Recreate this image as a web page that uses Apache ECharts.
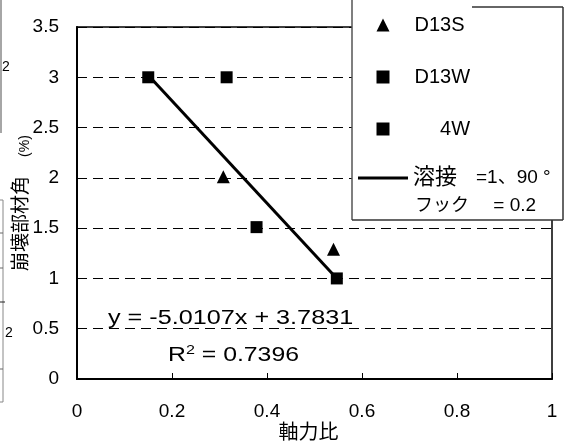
<!DOCTYPE html>
<html><head><meta charset="utf-8">
<script src="https://cdn.jsdelivr.net/npm/echarts@6/dist/echarts.min.js"></script>
<style>html,body{margin:0;padding:0;background:#fff}#c{width:573px;height:443px}</style>
</head><body><div id="c"></div>
<script>
// ---- data ----
const xTickStep = 0.2, xMin = 0, xMax = 1;
const yTickStep = 0.5, yMin = 0, yMax = 3.5;
const d13sX = [0.308, 0.54];
const d13sY = [2.01, 1.29];
const d13wX = [0.15, 0.315];
const d13wY = [3.0, 3.0];
const w4X = [0.378, 0.547];
const w4Y = [1.51, 1.0];
const trendX = [0.15, 0.547];
const trendY = [3.02, 1.0];
const seriesNames = ['D13S', 'D13W', '4W', '溶接　=1、90 °'];
const legendSecondLabel = 'フック';
const legendSecondValue = '= 0.2';
const equationText = 'y = -5.0107x + 3.7831';
const r2Value = '0.7396';
const xName = '軸力比';
const yNameMain = '崩壊部材角';
const yNameUnit = '(%)';

const FONT = "'Liberation Sans', Arial, 'Noto Sans CJK JP', sans-serif";
const zip = (xs, ys) => xs.map((x, i) => [x, ys[i]]);

const chart = echarts.init(document.getElementById('c'), null, {renderer: 'canvas'});
chart.setOption({
  animation: false,
  backgroundColor: '#fff',
  textStyle: {fontFamily: FONT, color: '#000'},
  grid: {left: 77, right: 21, top: 27, bottom: 64, show: true, borderColor: '#000', borderWidth: 1.5,
    backgroundColor: 'transparent', outerBoundsMode: 'none', containLabel: false},
  xAxis: {
    type: 'value', min: xMin, max: xMax, interval: xTickStep,
    name: xName, nameLocation: 'middle', nameGap: 44, nameMoveOverlap: false,
    nameTextStyle: {fontSize: 20, color: '#000', fontFamily: FONT, padding: [0, 12, 0, 0]},
    axisLine: {show: true, lineStyle: {color: '#000', width: 2}},
    axisTick: {show: true, inside: true, length: 6, lineStyle: {color: '#000', width: 1}},
    axisLabel: {fontSize: 19, color: '#000', margin: 23, fontFamily: FONT},
    splitLine: {show: false}
  },
  yAxis: {
    type: 'value', min: yMin, max: yMax, interval: yTickStep,
    name: '{m|' + yNameMain + '}\u3000{u|' + yNameUnit + '}', nameLocation: 'middle', nameGap: 44, nameRotate: 90, nameMoveOverlap: false,
    nameTextStyle: {fontSize: 19, color: '#000', fontFamily: FONT, lineHeight: 22,
      rich: {m: {fontSize: 19, lineHeight: 22, verticalAlign: 'middle', color: '#000', fontFamily: FONT},
             u: {fontSize: 14, lineHeight: 22, verticalAlign: 'middle', padding: [6, 0, 0, 0], color: '#000', fontFamily: FONT}}},
    axisLine: {show: true, lineStyle: {color: '#000', width: 2}},
    axisTick: {show: false},
    axisLabel: {fontSize: 19, color: '#000', margin: 18, fontFamily: FONT},
    splitLine: {show: true, lineStyle: {color: '#000', width: 1, type: [10, 6]}}
  },
  legend: [
    {
      data: seriesNames.slice(0, 3), orient: 'vertical', left: 376.5, top: 15, z: 20, padding: 0,
      itemWidth: 13, itemHeight: 13, itemGap: 32,
      formatter: n => n === '4W' ? '\u3000 4W' : n,
      textStyle: {fontSize: 20, color: '#000', fontFamily: FONT, lineHeight: 20, padding: [0, 0, 0, 20]},
      selectedMode: false
    },
    {
      data: [{name: seriesNames[3], icon: 'rect'}], orient: 'vertical', left: 358, top: 167, z: 20, padding: 0,
      itemWidth: 50, itemHeight: 3,
      formatter: n => '{c|' + n.split('\u3000')[0] + '}\u3000' + n.split('\u3000')[1],
      textStyle: {fontSize: 19, color: '#000', fontFamily: FONT, lineHeight: 20,
        rich: {c: {fontSize: 22, color: '#000', fontFamily: FONT}}},
      selectedMode: false
    }
  ],
  series: [
    {name: seriesNames[3], type: 'line', data: zip(trendX, trendY), symbol: 'none', z: 2,
      lineStyle: {color: '#000', width: 3}, itemStyle: {color: '#000'}},
    {name: seriesNames[0], type: 'scatter', data: zip(d13sX, d13sY), symbol: 'triangle', symbolSize: 13, z: 3,
      itemStyle: {color: '#000', opacity: 1}},
    {name: seriesNames[1], type: 'scatter', data: zip(d13wX, d13wY), symbol: 'rect', symbolSize: 12, z: 3,
      itemStyle: {color: '#000', opacity: 1}},
    {name: seriesNames[2], type: 'scatter', data: zip(w4X, w4Y), symbol: 'rect', symbolSize: 12, z: 3,
      itemStyle: {color: '#000', opacity: 1}}
  ],
  graphic: [
    // legend frame
    {type: 'rect', z: 10, shape: {x: 352, y: 0, width: 211, height: 220}, style: {fill: '#fff'}},
    {type: 'line', z: 11, shape: {x1: 352, y1: 0, x2: 352, y2: 220}, style: {stroke: '#555', lineWidth: 1.5}},
    {type: 'line', z: 11, shape: {x1: 352, y1: 220, x2: 563, y2: 220}, style: {stroke: '#333', lineWidth: 1.5}},
    {type: 'line', z: 11, shape: {x1: 563, y1: 7, x2: 563, y2: 220}, style: {stroke: '#333', lineWidth: 1.5}},
    {type: 'line', z: 11, shape: {x1: 472, y1: 7, x2: 563, y2: 7}, style: {stroke: '#333', lineWidth: 1.5}},
    {type: 'text', z: 21, x: 415, y: 206, style: {
      text: '{c|' + legendSecondLabel + '}\u3000 ' + legendSecondValue, font: '19px ' + FONT, fill: '#000', verticalAlign: 'middle',
      rich: {c: {fontSize: 18, fontFamily: FONT}}}},
    // regression annotation (horizontally stretched like the reference)
    {type: 'text', z: 12, x: 108, y: 318, scaleX: 1.26, style: {text: equationText, font: '20px ' + FONT, fill: '#000', verticalAlign: 'middle'}},
    {type: 'text', z: 12, x: 168, y: 355, scaleX: 1.24, style: {
      text: 'R{s|2} = ' + r2Value, font: '20px ' + FONT, fill: '#000', verticalAlign: 'middle',
      rich: {s: {fontSize: 13, fontFamily: FONT, verticalAlign: 'top', padding: [0, 0, 10, 0]}}}},
    // fragments of a neighbouring chart at the left edge
    {type: 'line', z: 1, shape: {x1: 1, y1: 0, x2: 1, y2: 133}, style: {stroke: '#888', lineWidth: 1.5}},
    {type: 'rect', z: 1, shape: {x: -6, y: 200, width: 9, height: 202}, style: {fill: 'none', stroke: '#888', lineWidth: 1}},
    {type: 'line', z: 1, shape: {x1: 0, y1: 233, x2: 3, y2: 233}, style: {stroke: '#666', lineWidth: 1}},
    {type: 'line', z: 1, shape: {x1: 0, y1: 268, x2: 3, y2: 268}, style: {stroke: '#666', lineWidth: 1}},
    {type: 'line', z: 1, shape: {x1: 0, y1: 302, x2: 5, y2: 302}, style: {stroke: '#222', lineWidth: 1}},
    {type: 'line', z: 1, shape: {x1: 0, y1: 369, x2: 3, y2: 369}, style: {stroke: '#666', lineWidth: 1}},
    {type: 'text', z: 1, x: 2, y: 67, style: {text: '2', font: '14px ' + FONT, fill: '#000', verticalAlign: 'middle'}},
    {type: 'text', z: 1, x: 5, y: 333, style: {text: '2', font: '14px ' + FONT, fill: '#000', verticalAlign: 'middle'}}
  ]
});
</script></body></html>
